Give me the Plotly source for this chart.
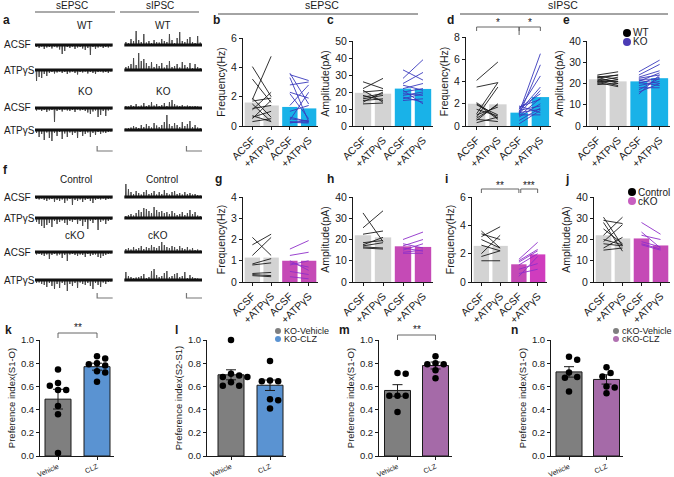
import plotly.graph_objects as go

W, H = 674, 477
FONT = "Liberation Sans, Arial, sans-serif"

# ---------------- DATA ----------------
CATS = ["ACSF", "+ATPγS", "ACSF", "+ATPγS"]

# panel b: sEPSC frequency (Hz)
B_MEANS = [1.6, 1.4, 1.3, 1.2]
B_WT_ACSF = [4.05, 3.2, 1.8, 1.9, 1.7, 1.5, 1.1, 0.6, 0.5, 0.3, 1.2, 0.7]
B_WT_ATP = [2.0, 1.6, 4.75, 0.6, 1.9, 0.3, 2.3, 1.0, 1.75, 0.5, 1.4, 0.3]
B_KO_ACSF = [3.6, 3.5, 3.3, 2.8, 2.2, 1.4, 0.5, 0.4, 0.3, 0.2, 0.25, 0.6, 2.3, 1.0]
B_KO_ATP = [1.5, 3.1, 0.3, 3.0, 0.5, 2.8, 0.3, 2.3, 0.25, 0.4, 0.2, 0.3, 1.9, 1.4]

# panel c: sEPSC amplitude (pA)
C_MEANS = [19.5, 19.0, 22.0, 21.8]
C_WT_ACSF = [26, 22, 21, 20, 17, 15, 14, 13, 18, 16]
C_WT_ATP = [22, 28, 14, 21, 19, 16, 20, 13.5, 15, 18]
C_KO_ACSF = [33, 28, 25, 22, 20, 19, 18, 17, 15, 16, 21, 24]
C_KO_ATP = [27, 39, 31.5, 25, 22, 18, 20, 14, 16, 19, 13, 21]

# panel d: sIPSC frequency (Hz)
D_MEANS = [2.0, 1.95, 1.2, 2.6]
D_WT_ACSF = [4.1, 1.1, 0.8, 2.1, 1.9, 2.0, 0.5, 0.7, 1.0, 0.3, 0.6, 1.5, 3.5]
D_WT_ATP = [5.75, 3.9, 3.5, 0.7, 1.0, 0.6, 2.0, 1.9, 1.7, 0.8, 0.4, 0.9, 3.9]
D_KO_ACSF = [1.2, 1.0, 1.5, 1.3, 1.1, 1.6, 0.9, 1.7, 1.4, 0.5, 1.2, 0.2, 1.8, 1.0, 0.8]
D_KO_ATP = [6.5, 5.5, 4.5, 3.5, 3.2, 2.9, 2.5, 2.4, 1.8, 1.6, 1.5, 1.4, 1.2, 1.0, 2.0]

# panel e: sIPSC amplitude (pA)
E_MEANS = [22, 21, 21, 22.5]
E_WT_ACSF = [24, 23.5, 23, 22.5, 22, 21.5, 21, 20.5, 20, 19.5, 23, 21]
E_WT_ATP = [25.5, 22, 20, 24, 21, 19, 23, 18.5, 22, 20, 24, 21]
E_KO_ACSF = [25.5, 24, 23, 22.5, 22, 21.5, 21, 20.5, 20, 19, 18, 17, 16, 15]
E_KO_ATP = [31, 29, 26, 24, 22, 20, 25, 19, 23, 21, 18, 22.5, 20, 24]

# panel g: sEPSC frequency (Hz), Control / cKO
G_MEANS = [1.15, 1.15, 1.0, 1.0]
G_CT_ACSF = [2.1, 1.75, 1.25, 0.85, 0.8, 0.4, 0.35, 0.3]
G_CT_ATP = [1.25, 2.25, 2.1, 1.1, 0.9, 0.45, 0.3, 0.25]
G_CKO_ACSF = [1.55, 1.25, 1.0, 0.9, 0.8, 0.5, 0.25]
G_CKO_ATP = [1.95, 1.4, 0.55, 0.7, 1.0, 0.35, 0.15]

# panel h: sEPSC amplitude (pA)
H_MEANS = [22, 21, 16.8, 16.5]
H_CT_ACSF = [32.5, 25.5, 22.5, 18.5, 17.5, 17, 16.5, 16]
H_CT_ATP = [19, 33.5, 24, 19.5, 21, 18.5, 16, 15.5]
H_CKO_ACSF = [20, 18, 17, 15, 14, 13.5, 16]
H_CKO_ATP = [23.5, 16, 20, 18, 15, 13.5, 14.5]

# panel i: sIPSC frequency (Hz)
I_MEANS = [2.55, 2.55, 1.25, 1.95]
I_CT_ACSF = [3.6, 3.4, 3.2, 2.6, 2.0, 1.8, 1.5, 3.0]
I_CT_ATP = [2.4, 3.0, 3.9, 2.2, 3.3, 2.2, 1.5, 2.4]
I_CKO_ACSF = [1.6, 1.5, 1.4, 1.2, 0.9, 0.6, 0.4]
I_CKO_ATP = [2.8, 2.3, 2.2, 2.0, 1.3, 0.9, 1.8]

# panel j: sIPSC amplitude (pA)
J_MEANS = [22, 20.5, 20.5, 17.2]
J_CT_ACSF = [30.5, 29, 28, 25, 22, 20, 19, 18, 16, 15]
J_CT_ATP = [17, 27.5, 14.5, 18, 30.5, 17.5, 27, 17, 21, 16]
J_CKO_ACSF = [28, 23.5, 22, 19, 18, 17.5]
J_CKO_ATP = [22.5, 16, 20, 16.5, 15.5, 15]

# panels k-n: preference index
PREF_CATS = ["Vehicle", "CLZ"]
K_VEH = [0.745, 0.63, 0.57, 0.57, 0.605, 0.43, 0.36, 0.025]
K_CLZ = [0.86, 0.84, 0.80, 0.79, 0.78, 0.73, 0.72, 0.64]
K_MEANS = [0.49, 0.77]
K_SEM = [0.085, 0.03]
L_VEH = [1.0, 0.71, 0.695, 0.68, 0.68, 0.635, 0.605, 0.605]
L_CLZ = [0.82, 0.65, 0.645, 0.645, 0.635, 0.49, 0.48, 0.41]
L_MEANS = [0.70, 0.61]
L_SEM = [0.043, 0.045]
M_VEH = [0.715, 0.71, 0.52, 0.52, 0.52, 0.38]
M_CLZ = [0.86, 0.80, 0.79, 0.79, 0.74, 0.67]
M_MEANS = [0.565, 0.78]
M_SEM = [0.05, 0.03]
N_VEH = [0.855, 0.83, 0.72, 0.68, 0.675, 0.555]
N_CLZ = [0.765, 0.715, 0.685, 0.60, 0.59, 0.54]
N_MEANS = [0.725, 0.66]
N_SEM = [0.045, 0.04]

# example traces: event amplitudes (pA) sampled along 10-s sweeps
TRACE_T = [0.15 + i * 0.33 for i in range(30)]
A_E_WT_ACSF = [4, 6, 3, 8, 5, 4, 7, 3, 5, 9, 18, 12, 4, 6, 3, 8, 5, 4, 7, 10, 6, 20, 4, 8, 5, 3, 6, 4, 5, 3]
A_E_WT_ATP = [22, 14, 16, 8, 12, 6, 4, 7, 5, 3, 6, 4, 8, 5, 3, 6, 9, 4, 5, 3, 7, 4, 6, 8, 4, 3, 5, 4, 6, 3]
A_E_KO_ACSF = [5, 3, 6, 4, 8, 5, 4, 28, 6, 4, 7, 3, 5, 6, 4, 8, 3, 5, 4, 6, 9, 12, 7, 5, 18, 14, 6, 16, 5, 3]
A_E_KO_ATP = [6, 14, 8, 20, 5, 16, 22, 6, 12, 4, 18, 7, 14, 5, 10, 6, 16, 4, 12, 8, 5, 14, 6, 10, 4, 8, 5, 6, 4, 3]
A_I_WT_ACSF = [6, 4, 12, 8, 28, 10, 6, 22, 5, 8, 4, 10, 6, 5, 12, 8, 6, 22, 10, 4, 14, 26, 8, 6, 12, 16, 6, 4, 18, 5]
A_I_WT_ATP = [6, 8, 12, 24, 10, 34, 18, 22, 14, 8, 16, 6, 12, 8, 14, 5, 10, 18, 6, 8, 12, 5, 16, 10, 6, 14, 4, 12, 6, 4]
A_I_KO_ACSF = [4, 3, 6, 4, 8, 3, 5, 10, 4, 6, 12, 5, 8, 4, 6, 10, 4, 12, 16, 8, 5, 4, 6, 3, 5, 4, 3, 4, 3, 2]
A_I_KO_ATP = [3, 4, 5, 8, 6, 4, 10, 6, 12, 8, 5, 14, 9, 6, 10, 16, 30, 12, 8, 14, 10, 6, 16, 8, 12, 18, 6, 10, 5, 4]
F_E_CT_ACSF = [4, 5, 3, 6, 8, 5, 4, 10, 6, 8, 5, 12, 7, 4, 16, 6, 8, 5, 10, 6, 4, 8, 12, 6, 4, 5, 3, 6, 4, 3]
F_E_CT_ATP = [8, 12, 16, 20, 14, 10, 18, 6, 12, 8, 5, 10, 14, 6, 8, 4, 12, 6, 16, 8, 22, 6, 10, 4, 24, 8, 5, 12, 6, 4]
F_E_CKO_ACSF = [5, 4, 6, 8, 5, 14, 6, 4, 7, 5, 12, 6, 18, 5, 4, 6, 8, 5, 6, 10, 4, 8, 6, 5, 10, 12, 8, 6, 4, 3]
F_E_CKO_ATP = [6, 5, 8, 10, 14, 6, 12, 18, 8, 16, 6, 10, 22, 8, 12, 6, 16, 5, 8, 10, 6, 12, 18, 6, 10, 14, 5, 8, 4, 3]
F_I_CT_ACSF = [26, 16, 10, 6, 12, 8, 5, 10, 14, 6, 8, 12, 5, 10, 6, 14, 8, 5, 10, 12, 6, 8, 5, 10, 6, 8, 5, 6, 4, 3]
F_I_CT_ATP = [4, 6, 8, 5, 10, 16, 12, 20, 18, 14, 10, 22, 16, 12, 14, 10, 12, 8, 14, 10, 6, 8, 12, 6, 10, 16, 8, 12, 5, 4]
F_I_CKO_ACSF = [6, 8, 5, 10, 6, 8, 12, 6, 10, 8, 14, 10, 8, 12, 20, 14, 10, 8, 12, 10, 6, 12, 8, 6, 10, 5, 8, 4, 5, 3]
F_I_CKO_ATP = [16, 8, 6, 4, 5, 6, 8, 12, 4, 6, 18, 22, 10, 6, 8, 14, 18, 6, 8, 12, 14, 6, 8, 16, 4, 10, 6, 4, 3, 2]
SCALE_PA = 10
SCALE_S = 2

# ---------------- STYLE ----------------
GRAY_BAR = "#d3d3d3"
CYAN = "#19b2e8"
MAGENTA = "#c54ab6"
KO_LINE = "#3a3abd"
CKO_LINE = "#8e2fc9"
DARK_GRAY = "#7f7f7f"
BLUE = "#5a93d2"
PURPLE = "#a56aa8"
INK = "#1a1a1a"


def fx(x):
    return x / W


def fy(y):
    return 1 - y / H


layout = dict(template="none", width=W, height=H, margin=dict(l=0, r=0, t=0, b=0, pad=0),
              autosize=False, paper_bgcolor="white", plot_bgcolor="rgba(0,0,0,0)",
              showlegend=False, font=dict(family=FONT, color=INK, size=10))
shapes = []
annots = []
traces = []
counter = [0]


def new_axes(l, r, t, b, xrange, yrange, xkw=None, ykw=None):
    counter[0] += 1
    n = counter[0]
    s = "" if n == 1 else str(n)
    xa = dict(domain=[fx(l), fx(r)], range=xrange, anchor="y" + s, showgrid=False,
              zeroline=False, fixedrange=True, automargin=False)
    ya = dict(domain=[fy(b), fy(t)], range=yrange, anchor="x" + s, showgrid=False,
              zeroline=False, fixedrange=True, automargin=False)
    if xkw:
        xa.update(xkw)
    if ykw:
        ya.update(ykw)
    layout["xaxis" + s] = xa
    layout["yaxis" + s] = ya
    return "x" + s, "y" + s


def text(x, y, s, size=10, anchor="center", bold=False, color=INK, xref="paper", yref="paper"):
    annots.append(dict(x=fx(x) if xref == "paper" else x, y=fy(y) if yref == "paper" else y,
                       xref=xref, yref=yref, text=("<b>%s</b>" % s) if bold else s,
                       showarrow=False, xanchor=anchor, yanchor="middle", borderpad=0,
                       font=dict(size=size, color=color, family=FONT)))


def hline_px(x0, x1, y, color=INK, width=1):
    shapes.append(dict(type="line", xref="paper", yref="paper", x0=fx(x0), x1=fx(x1),
                       y0=fy(y), y1=fy(y), line=dict(color=color, width=width)))


HIDDEN = dict(visible=False)
AXLINE = dict(showline=True, linecolor=INK, linewidth=1, ticks="outside", ticklen=3,
              tickwidth=1, tickcolor=INK)

# ---------------- example traces (a, f) ----------------
ROWS_A = [220, 170, 94, 50]
ROWS_F = [216, 174, 106, 50]
COL_T0 = [0.0, 11.5]


def trace_panel(t, b, rows, scale_y, sweeps):
    xr, yr = new_axes(35, 202, t, b, [0, 21.5], [0, 250], HIDDEN, HIDDEN)
    for (col, row, sign, amps) in sweeps:
        t0 = COL_T0[col]
        base = rows[row]
        xs, ys = [], []
        for tt, a in zip(TRACE_T, amps):
            xs += [t0 + tt, t0 + tt + 0.05, t0 + tt + 0.1]
            ys += [base, base + sign * a, base]
        traces.append(go.Scatter(x=xs, y=ys, mode="lines", xaxis=xr, yaxis=yr,
                                 line=dict(color="#4a4a4a", width=1), hoverinfo="skip"))
        traces.append(go.Scatter(x=[t0, t0 + 10], y=[base, base], mode="lines", xaxis=xr, yaxis=yr,
                                 line=dict(color="#111", width=3), hoverinfo="skip"))
    for t0 in COL_T0:
        traces.append(go.Scatter(x=[t0 + 10 - SCALE_S, t0 + 10 - SCALE_S, t0 + 10],
                                 y=[scale_y + SCALE_PA, scale_y, scale_y], mode="lines",
                                 xaxis=xr, yaxis=yr, line=dict(color="#777", width=1.2),
                                 hoverinfo="skip"))


trace_panel(30, 155, ROWS_A, 8, [
    (0, 0, -1, A_E_WT_ACSF), (0, 1, -1, A_E_WT_ATP), (0, 2, -1, A_E_KO_ACSF), (0, 3, -1, A_E_KO_ATP),
    (1, 0, 1, A_I_WT_ACSF), (1, 1, 1, A_I_WT_ATP), (1, 2, 1, A_I_KO_ACSF), (1, 3, 1, A_I_KO_ATP)])
trace_panel(180, 305, ROWS_F, 14, [
    (0, 0, -1, F_E_CT_ACSF), (0, 1, -1, F_E_CT_ATP), (0, 2, -1, F_E_CKO_ACSF), (0, 3, -1, F_E_CKO_ATP),
    (1, 0, 1, F_I_CT_ACSF), (1, 1, 1, F_I_CT_ATP), (1, 2, 1, F_I_CKO_ACSF), (1, 3, 1, F_I_CKO_ATP)])

# labels panel a
text(2, 20, "a", 12, "left", True)
text(72, 6, "sEPSC", 10)
text(160, 6, "sIPSC", 10)
hline_px(35, 115, 12, "#aaaaaa", 2)
hline_px(120, 199, 12, "#aaaaaa", 2)
text(85, 25, "WT", 10)
text(163, 25, "WT", 10)
text(85, 91, "KO", 10)
text(163, 91, "KO", 10)
for y, s in zip([45, 70, 108, 130], ["ACSF", "ATPγS", "ACSF", "ATPγS"]):
    text(3, y, s, 10, "left")
# labels panel f
text(2, 170, "f", 12, "left", True)
text(76, 179, "Control", 10)
text(162, 179, "Control", 10)
text(75, 235, "cKO", 10)
text(158, 235, "cKO", 10)
for y, s in zip([197, 218, 252, 280], ["ACSF", "ATPγS", "ACSF", "ATPγS"]):
    text(3, y, s, 10, "left")


# ---------------- paired bar panels ----------------
def paired_panel(l, r, t, b, ymax, step, ytitle, means, bar_colors, g1, g2, c1, c2):
    xr, yr = new_axes(l, r, t, b, [-0.5, 3.5], [0, ymax],
                      dict(AXLINE, tickvals=[0, 1, 2, 3], ticktext=CATS, tickangle=-45,
                           tickfont=dict(size=10.5)),
                      dict(AXLINE, tickvals=list(range(0, ymax + 1, step)),
                           tickfont=dict(size=10.5),
                           title=dict(text=ytitle, font=dict(size=10.5), standoff=3)))
    traces.append(go.Bar(x=[0, 1, 2, 3], y=means, width=0.82, marker=dict(color=bar_colors, line=dict(width=0)),
                         xaxis=xr, yaxis=yr, hoverinfo="skip"))
    for (pre, post), x0, col in [(g1, 0, c1), (g2, 2, c2)]:
        xs, ys = [], []
        for a, p in zip(pre, post):
            xs += [x0, x0 + 1, None]
            ys += [a, p, None]
        traces.append(go.Scatter(x=xs, y=ys, mode="lines", xaxis=xr, yaxis=yr,
                                 line=dict(color=col, width=0.9), hoverinfo="skip"))
    return xr, yr


text(212, 20, "b", 12, "left", True)
paired_panel(243, 318, 38, 126, 6, 2, "Frequency(Hz)", B_MEANS, [GRAY_BAR, GRAY_BAR, CYAN, CYAN],
             (B_WT_ACSF, B_WT_ATP), (B_KO_ACSF, B_KO_ATP), INK, KO_LINE)
text(326, 20, "c", 12, "left", True)
paired_panel(353, 433, 41, 126, 50, 10, "Amplitude(pA)", C_MEANS, [GRAY_BAR, GRAY_BAR, CYAN, CYAN],
             (C_WT_ACSF, C_WT_ATP), (C_KO_ACSF, C_KO_ATP), INK, KO_LINE)
text(446, 20, "d", 12, "left", True)
xd, yd = paired_panel(466, 551, 37, 126, 8, 2, "Frequency(Hz)", D_MEANS, [GRAY_BAR, GRAY_BAR, CYAN, CYAN],
                      (D_WT_ACSF, D_WT_ATP), (D_KO_ACSF, D_KO_ATP), INK, KO_LINE)
text(562, 20, "e", 12, "left", True)
paired_panel(587, 670, 41, 126, 40, 10, "Amplitude(pA)", E_MEANS, [GRAY_BAR, GRAY_BAR, CYAN, CYAN],
             (E_WT_ACSF, E_WT_ATP), (E_KO_ACSF, E_KO_ATP), INK, KO_LINE)

text(214, 179, "g", 12, "left", True)
paired_panel(243, 318, 197, 282, 4, 1, "Frequency(Hz)", G_MEANS, [GRAY_BAR, GRAY_BAR, MAGENTA, MAGENTA],
             (G_CT_ACSF, G_CT_ATP), (G_CKO_ACSF, G_CKO_ATP), INK, CKO_LINE)
text(326, 179, "h", 12, "left", True)
paired_panel(353, 433, 197, 282, 40, 10, "Amplitude(pA)", H_MEANS, [GRAY_BAR, GRAY_BAR, MAGENTA, MAGENTA],
             (H_CT_ACSF, H_CT_ATP), (H_CKO_ACSF, H_CKO_ATP), INK, CKO_LINE)
text(444, 179, "i", 12, "left", True)
xi, yi = paired_panel(472, 547, 197, 282, 6, 2, "Frequency(Hz)", I_MEANS, [GRAY_BAR, GRAY_BAR, MAGENTA, "#d03cbe"],
                      (I_CT_ACSF, I_CT_ATP), (I_CKO_ACSF, I_CKO_ATP), INK, CKO_LINE)
text(564, 179, "j", 12, "left", True)
paired_panel(594, 670, 197, 282, 40, 10, "Amplitude(pA)", J_MEANS, [GRAY_BAR, GRAY_BAR, MAGENTA, MAGENTA],
             (J_CT_ACSF, J_CT_ATP), (J_CKO_ACSF, J_CKO_ATP), INK, CKO_LINE)

# headers over b-c and d-e
text(322, 5, "sEPSC", 10.5)
hline_px(218, 418, 14, INK, 0.8)
text(563, 5, "sIPSC", 10.5)
hline_px(460, 668, 14, INK, 0.8)


def bracket(xref, xa, xb, y, drop_a, drop_b, label, ystar):
    for x0, x1, y0, y1 in [(xa, xb, y, y), (xa, xa, y, y + drop_a), (xb, xb, y, y + drop_b)]:
        shapes.append(dict(type="line", xref=xref, yref="paper", x0=x0, x1=x1, y0=fy(y0), y1=fy(y1),
                           line=dict(color="#555", width=0.9)))
    annots.append(dict(x=(xa + xb) / 2, y=fy(ystar), xref=xref, yref="paper", text=label,
                       showarrow=False, xanchor="center", yanchor="middle", borderpad=0,
                       font=dict(size=10, color=INK, family=FONT)))


bracket(xd, 0, 2, 27, 4, 8, "*", 23)
bracket(xd, 2, 3, 27, 4, 4, "*", 23)
bracket(xi, 0, 2, 189, 4, 4, "**", 185)
bracket(xi, 2.1, 3, 189, 4, 4, "***", 185)


def legend_dot(x, y, color, label, size=9, r=3.6):
    shapes.append(dict(type="circle", xref="paper", yref="paper", xsizemode="pixel", ysizemode="pixel",
                       xanchor=fx(x), yanchor=fy(y), x0=-r, x1=r, y0=-r, y1=r,
                       fillcolor=color, line=dict(width=0)))
    text(x + 5, y, label, size, "left")


legend_dot(627, 33, "#000000", "WT", 10, 4)
legend_dot(627, 42, "#4b3cb5", "KO", 10, 4)
legend_dot(632, 192, "#000000", "Control", 10, 4)
legend_dot(632, 201, "#c75ec0", "cKO", 10, 4)


# ---------------- preference index panels ----------------
def swarm(vals, xppu, yppu, d=6.6):
    placed, offs = [], []
    cands = [0.0]
    for j in range(1, 8):
        cands += [j * d * 0.62, -j * d * 0.62]
    for v in vals:
        chosen = cands[-1]
        for c in cands:
            if all((c - px) ** 2 + ((v - pv) * yppu) ** 2 >= d * d for px, pv in placed):
                chosen = c
                break
        placed.append((chosen, v))
        offs.append(chosen / xppu)
    return offs


def pref_panel(l, c1, c2, r, t, b, ytitle, veh, clz, means, sems, colors):
    ppu = c2 - c1
    xr, yr = new_axes(l, r, t, b, [(l - c1) / ppu, (r - c1) / ppu], [0, 1.0],
                      dict(AXLINE, tickvals=[0, 1], ticktext=PREF_CATS, tickangle=-24,
                           tickfont=dict(size=7)),
                      dict(AXLINE, tickvals=[0, 0.2, 0.4, 0.6, 0.8, 1.0], tickformat=".1f",
                           tickfont=dict(size=9.5),
                           title=dict(text=ytitle, font=dict(size=9.5), standoff=3)))
    traces.append(go.Bar(x=[0, 1], y=means, width=26 / ppu,
                         marker=dict(color=colors, line=dict(color=INK, width=1)),
                         error_y=dict(type="data", array=sems, color=INK, thickness=1, width=5),
                         xaxis=xr, yaxis=yr, hoverinfo="skip"))
    yppu = b - t
    for i, vals in enumerate([veh, clz]):
        offs = swarm(vals, ppu, yppu)
        traces.append(go.Scatter(x=[i + o for o in offs], y=vals, mode="markers", xaxis=xr, yaxis=yr,
                                 marker=dict(color="#000", size=6.5, line=dict(width=0)),
                                 hoverinfo="skip", cliponaxis=False))
    return xr, yr


text(4, 330, "k", 12, "left", True)
xk, yk = pref_panel(40, 58, 97, 114, 340, 456, "Preference index(S1-O)", K_VEH, K_CLZ, K_MEANS, K_SEM,
                    [DARK_GRAY, BLUE])
text(174, 330, "l", 12, "left", True)
pref_panel(207, 231, 270, 286, 340, 456, "Preference index(S2-S1)", L_VEH, L_CLZ, L_MEANS, L_SEM,
           [DARK_GRAY, BLUE])
text(338, 330, "m", 12, "left", True)
xm, ym = pref_panel(379, 397.5, 435.5, 452, 340, 456, "Preference index(S1-O)", M_VEH, M_CLZ, M_MEANS, M_SEM,
                    [DARK_GRAY, PURPLE])
text(510, 330, "n", 12, "left", True)
pref_panel(551, 569, 606.5, 623, 340, 456, "Preference index(S1-O)", N_VEH, N_CLZ, N_MEANS, N_SEM,
           [DARK_GRAY, PURPLE])

bracket(xk, 0, 1, 333, 5, 5, "**", 327)
bracket(xm, 0, 1, 335, 5, 5, "**", 329)

legend_dot(278, 331, DARK_GRAY, "KO-Vehicle", 9, 3)
legend_dot(278, 339, BLUE, "KO-CLZ", 9, 3)
legend_dot(616, 331, DARK_GRAY, "cKO-Vehicle", 9, 3)
legend_dot(616, 339, "#b070b0", "cKO-CLZ", 9, 3)

layout["shapes"] = shapes
layout["annotations"] = annots
fig = go.Figure(data=traces, layout=layout)
fig.write_html("out.html", config={"displayModeBar": False},
               post_script="document.body.style.margin='0';document.body.style.padding='0';")
